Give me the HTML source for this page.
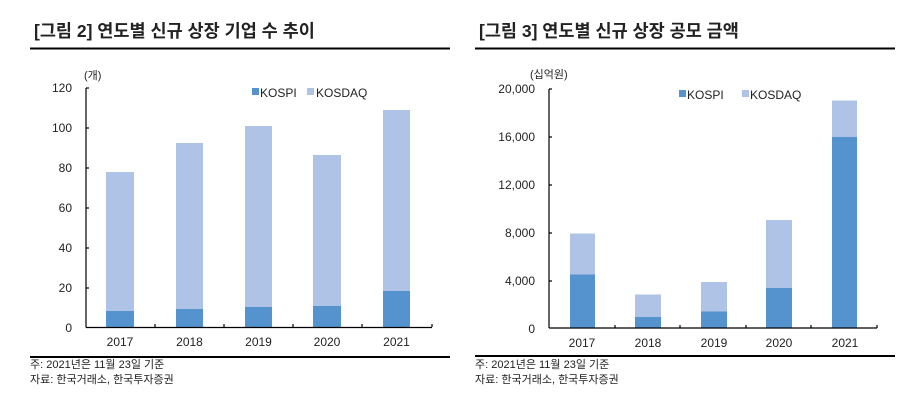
<!DOCTYPE html>
<html><head><meta charset="utf-8"><style>
html,body{margin:0;padding:0;background:#fff;}
svg{display:block;}
text{font-family:"Liberation Sans","Noto Sans CJK KR",sans-serif;fill:#222;}
</style></head><body>
<svg width="917" height="401" viewBox="0 0 917 401" xmlns="http://www.w3.org/2000/svg">
<text x="34" y="37" font-size="17.5" font-weight="bold" fill="#111">[그림 2] 연도별 신규 상장 기업 수 추이</text>
<line x1="30" y1="48.5" x2="450" y2="48.5" stroke="#000" stroke-width="2"/>
<text x="479" y="37" font-size="17.5" font-weight="bold" fill="#111">[그림 3] 연도별 신규 상장 공모 금액</text>
<line x1="475" y1="48.5" x2="895" y2="48.5" stroke="#000" stroke-width="2"/>

<text x="84" y="79" font-size="11">(개)</text>
<g font-size="12" text-anchor="end">
<text x="72" y="92">120</text><text x="72" y="132">100</text><text x="72" y="172">80</text>
<text x="72" y="212">60</text><text x="72" y="252">40</text><text x="72" y="292">20</text><text x="72" y="332">0</text>
</g>
<g fill="#aec3e5">
<rect x="106" y="172" width="28" height="155"/>
<rect x="176" y="143" width="27" height="184"/>
<rect x="245" y="126" width="27" height="201"/>
<rect x="313" y="155" width="28" height="172"/>
<rect x="383" y="110" width="27" height="217"/>
</g>
<g fill="#5593cf">
<rect x="106" y="311" width="28" height="16"/>
<rect x="176" y="309" width="27" height="18"/>
<rect x="245" y="307" width="27" height="20"/>
<rect x="313" y="306" width="28" height="21"/>
<rect x="383" y="291" width="27" height="36"/>
</g>
<g stroke="#000" stroke-width="1.2" fill="none">
<line x1="86" y1="88" x2="86" y2="327.5"/>
<line x1="86" y1="327.5" x2="432" y2="327.5"/>
<line x1="86" y1="88" x2="89" y2="88"/><line x1="86" y1="128" x2="89" y2="128"/><line x1="86" y1="168" x2="89" y2="168"/>
<line x1="86" y1="208" x2="89" y2="208"/><line x1="86" y1="248" x2="89" y2="248"/><line x1="86" y1="288" x2="89" y2="288"/>
<line x1="155" y1="324" x2="155" y2="327"/><line x1="224" y1="324" x2="224" y2="327"/><line x1="293" y1="324" x2="293" y2="327"/>
<line x1="362" y1="324" x2="362" y2="327"/><line x1="432" y1="324" x2="432" y2="327"/>
</g>
<g font-size="12" text-anchor="middle">
<text x="120" y="346">2017</text><text x="189.5" y="346">2018</text><text x="258.5" y="346">2019</text>
<text x="327" y="346">2020</text><text x="396.5" y="346">2021</text>
</g>
<rect x="252" y="88" width="7" height="7" fill="#5593cf"/>
<text x="260" y="97" font-size="12">KOSPI</text>
<rect x="307" y="88" width="7" height="7" fill="#aec3e5"/>
<text x="316" y="97" font-size="12">KOSDAQ</text>
<line x1="30" y1="357" x2="450" y2="357" stroke="#000" stroke-width="2"/>
<text x="30" y="368" font-size="11">주: 2021년은 11월 23일 기준</text>
<text x="30" y="383" font-size="11">자료: 한국거래소, 한국투자증권</text>

<text x="530" y="78" font-size="11">(십억원)</text>
<g font-size="12" text-anchor="end">
<text x="535" y="93">20,000</text><text x="535" y="141">16,000</text><text x="535" y="189">12,000</text>
<text x="535" y="237">8,000</text><text x="535" y="285">4,000</text><text x="535" y="333">0</text>
</g>
<g fill="#aec3e5">
<rect x="570" y="233.5" width="25" height="94.5"/>
<rect x="635" y="294.5" width="26" height="33.5"/>
<rect x="701" y="282" width="26" height="46"/>
<rect x="766" y="220" width="26" height="108"/>
<rect x="832" y="100.5" width="25" height="227.5"/>
</g>
<g fill="#5593cf">
<rect x="570" y="274.5" width="25" height="53.5"/>
<rect x="635" y="317" width="26" height="11"/>
<rect x="701" y="311.5" width="26" height="16.5"/>
<rect x="766" y="288" width="26" height="40"/>
<rect x="832" y="137" width="25" height="191"/>
</g>
<g stroke="#000" stroke-width="1.2" fill="none">
<line x1="549" y1="89" x2="549" y2="328"/>
<line x1="549" y1="328" x2="877" y2="328"/>
<line x1="549" y1="89" x2="552" y2="89"/><line x1="549" y1="137" x2="552" y2="137"/><line x1="549" y1="185" x2="552" y2="185"/>
<line x1="549" y1="233" x2="552" y2="233"/><line x1="549" y1="281" x2="552" y2="281"/>
<line x1="615" y1="325" x2="615" y2="328"/><line x1="680" y1="325" x2="680" y2="328"/><line x1="746" y1="325" x2="746" y2="328"/>
<line x1="811" y1="325" x2="811" y2="328"/><line x1="877" y1="325" x2="877" y2="328"/>
</g>
<g font-size="12" text-anchor="middle">
<text x="582" y="347">2017</text><text x="648" y="347">2018</text><text x="714" y="347">2019</text>
<text x="779" y="347">2020</text><text x="845" y="347">2021</text>
</g>
<rect x="679" y="90" width="7" height="7" fill="#5593cf"/>
<text x="687" y="99" font-size="12">KOSPI</text>
<rect x="742" y="90" width="7" height="7" fill="#aec3e5"/>
<text x="750" y="99" font-size="12">KOSDAQ</text>
<line x1="475" y1="356" x2="895" y2="356" stroke="#000" stroke-width="2"/>
<text x="475" y="368" font-size="11">주: 2021년은 11월 23일 기준</text>
<text x="475" y="383" font-size="11">자료: 한국거래소, 한국투자증권</text>
</svg>
</body></html>
